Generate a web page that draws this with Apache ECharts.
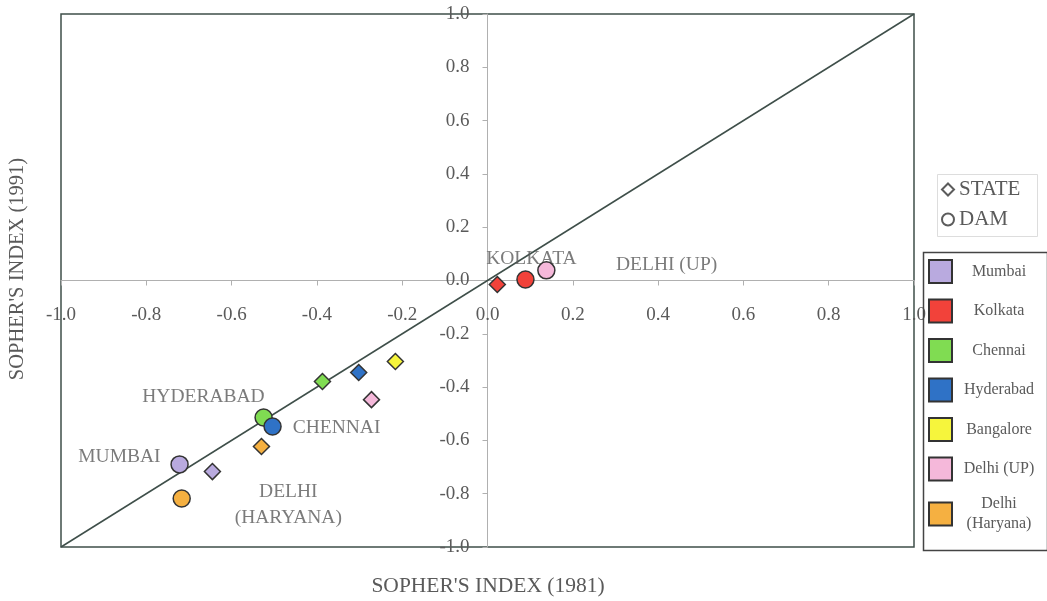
<!DOCTYPE html>
<html>
<head>
<meta charset="utf-8">
<script src="https://cdn.jsdelivr.net/npm/echarts@6/dist/echarts.min.js"></script>
<style>html,body{margin:0;padding:0;background:#fff}#c{width:1047px;height:601px}</style>
</head>
<body>
<div id="c"></div>
<script>
// ---- data ----
const cities = ['Mumbai', 'Kolkata', 'Chennai', 'Hyderabad', 'Bangalore', 'Delhi (UP)', 'Delhi (Haryana)'];
const cityColors = ['#b9aadf', '#f2423a', '#80dc52', '#2f72c6', '#f6f53c', '#f5b8da', '#f5b041'];
// [Sopher's index 1981, Sopher's index 1991]; null = not shown
const stateValues = [[-0.645, -0.717], [0.023, -0.015], [-0.387, -0.379], [-0.302, -0.345], [-0.216, -0.304], [-0.272, -0.447], [-0.530, -0.623]];
const damValues = [[-0.722, -0.690], [0.089, 0.004], [-0.525, -0.514], [-0.504, -0.548], null, [0.138, 0.038], [-0.717, -0.818]];
const annotations = [
  ['HYDERABAD', -0.666, -0.435],
  ['CHENNAI', -0.354, -0.552],
  ['MUMBAI', -0.863, -0.660],
  ['DELHI\n(HARYANA)', -0.467, -0.841],
  ['KOLKATA', 0.103, 0.083],
  ['DELHI (UP)', 0.420, 0.060]
];
const diagonal = [[-1, -1], [1, 1]];
const xTitle = "SOPHER'S INDEX (1981)";
const yTitle = "SOPHER'S INDEX (1991)";

const FONT = '"Liberation Serif", "DejaVu Serif", serif';
const TXT = '#5a5a5a';
const LINE = '#3f4f4a';
const GRID = {left: 61, top: 14, width: 853, height: 533};

const chart = echarts.init(document.getElementById('c'), null, {renderer: 'canvas'});

const citySeries = cities.map((c, i) => {
  const data = [];
  if (stateValues[i]) data.push({value: stateValues[i], symbol: 'diamond', symbolSize: 16});
  if (damValues[i]) data.push({value: damValues[i], symbol: 'circle', symbolSize: 17});
  return {
    name: c, type: 'scatter', z: 5, data: data,
    itemStyle: {color: cityColors[i], borderColor: '#333', borderWidth: 1.5, opacity: 1},
    emphasis: {disabled: true}
  };
});

const fmt = v => Math.abs(v) < 1e-9 ? '0.0' : v.toFixed(1);

const option = {
  animation: false,
  backgroundColor: '#fff',
  textStyle: {fontFamily: FONT},
  grid: Object.assign({show: true, borderColor: LINE, borderWidth: 1.5, backgroundColor: 'transparent'}, GRID),
  xAxis: {
    type: 'value', min: -1, max: 1, interval: 0.2, position: 'bottom', offset: -GRID.height / 2,
    axisLine: {onZero: false, lineStyle: {color: '#b0b0b0', width: 1}},
    axisTick: {show: true, length: 5, lineStyle: {color: '#b0b0b0'}},
    splitLine: {show: false},
    axisLabel: {margin: 25, color: TXT, fontSize: 19, fontFamily: FONT, showMinLabel: true, showMaxLabel: true, formatter: fmt}
  },
  yAxis: {
    type: 'value', min: -1, max: 1, interval: 0.2, position: 'left', offset: -GRID.width / 2,
    axisLine: {onZero: false, lineStyle: {color: '#b0b0b0', width: 1}},
    axisTick: {show: true, length: 5, lineStyle: {color: '#b0b0b0'}},
    splitLine: {show: false},
    axisLabel: {margin: 18, color: TXT, fontSize: 19, fontFamily: FONT, showMinLabel: true, showMaxLabel: true, formatter: fmt}
  },
  legend: [
    {
      data: cities.map(c => ({name: c, icon: 'rect'})),
      orient: 'vertical', left: 928, top: 259, itemWidth: 23, itemHeight: 23, itemGap: 14.5, padding: 0,
      selectedMode: false,
      formatter: n => n === 'Delhi (Haryana)' ? '{a|Delhi}\n{a|(Haryana)}' : '{a|' + n + '}',
      textStyle: {color: TXT, fontSize: 16, fontFamily: FONT,
        rich: {a: {width: 84, align: 'center', fontSize: 16, fontFamily: FONT, color: TXT, lineHeight: 20}}}
    },
    {
      data: ['STATE', 'DAM'],
      orient: 'vertical', left: 941, top: 179, itemWidth: 12, itemHeight: 12, itemGap: 9, padding: 0,
      selectedMode: false,
      textStyle: {color: TXT, fontSize: 21, fontFamily: FONT}
    }
  ],
  graphic: [
    {type: 'rect', left: 921, top: 250, shape: {width: 124, height: 298}, style: {fill: 'none', stroke: '#444', lineWidth: 1.5}, z: 1},
    {type: 'rect', left: 935, top: 172, shape: {width: 100, height: 62}, style: {fill: 'none', stroke: '#dddddd', lineWidth: 1}, z: 1},
    {type: 'text', x: 488, y: 586, style: {text: xTitle, fill: TXT, font: '21.5px ' + FONT, textAlign: 'center', textVerticalAlign: 'middle'}},
    {type: 'text', x: 18, y: 269, rotation: Math.PI / 2, style: {text: yTitle, fill: TXT, font: '20.5px ' + FONT, textAlign: 'center', textVerticalAlign: 'middle'}}
  ],
  series: [
    {type: 'line', data: diagonal, symbol: 'none', lineStyle: {color: LINE, width: 1.5}, z: 3, silent: true},
    ...citySeries,
    {name: 'STATE', type: 'scatter', data: [], symbol: 'diamond', itemStyle: {color: '#fff', borderColor: '#333', borderWidth: 1.5}},
    {name: 'DAM', type: 'scatter', data: [], symbol: 'circle', itemStyle: {color: '#fff', borderColor: '#333', borderWidth: 1.5}},
    {
      type: 'scatter', symbolSize: 1, z: 4, silent: true,
      itemStyle: {color: 'rgba(0,0,0,0)'},
      data: annotations.map(a => ({name: a[0], value: [a[1], a[2]]})),
      label: {show: true, position: 'inside', formatter: p => p.name, color: TXT, fontSize: 19.5, fontFamily: FONT, lineHeight: 26, align: 'center', verticalAlign: 'middle'}
    }
  ]
};
chart.setOption(option);
</script>
</body>
</html>
